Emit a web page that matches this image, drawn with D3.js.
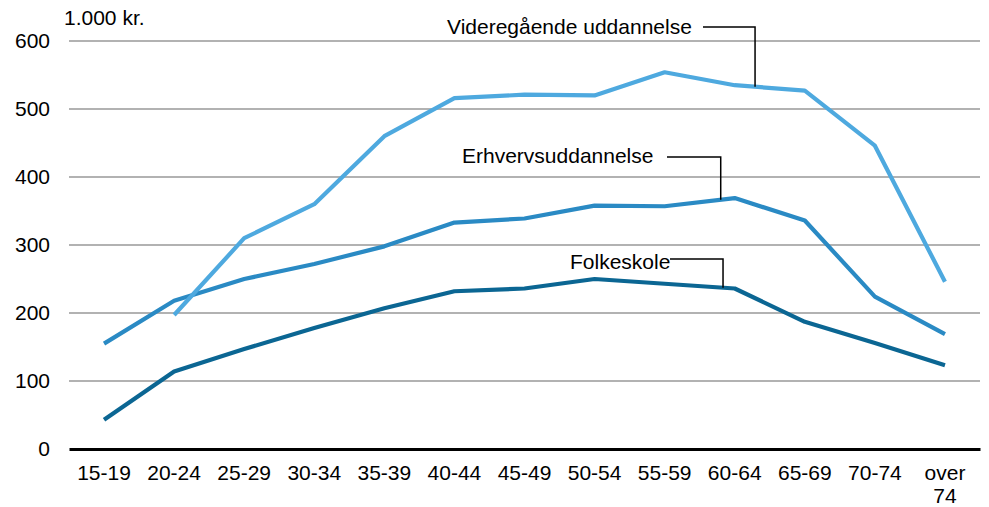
<!DOCTYPE html>
<html>
<head>
<meta charset="utf-8">
<script src="https://cdn.jsdelivr.net/npm/d3@7"></script>
<style>
  body { margin: 0; background: #fff; }
  text { font-family: "Liberation Sans", Arial, sans-serif; }
</style>
</head>
<body>
<div id="chart"></div>
<script>
const ageGroups = ["15-19", "20-24", "25-29", "30-34", "35-39", "40-44", "45-49",
                   "50-54", "55-59", "60-64", "65-69", "70-74", "over 74"];
const folkeskole = [43, 114, 147, 178, 207, 232, 236, 250, 243, 236, 187, 156, 123];
const erhverv = [155, 218, 250, 272, 298, 333, 339, 358, 357, 369, 336, 224, 169];
const videregaaende = [null, 197, 310, 360, 460, 516, 521, 520, 554, 535, 527, 446, 246];
const yTicks = [0, 100, 200, 300, 400, 500, 600];

const margin = { top: 41, right: 9, bottom: 58, left: 69 },
      width = 989 - margin.left - margin.right,
      height = 507 - margin.top - margin.bottom;

const svg = d3.select("#chart")
    .append("svg")
    .attr("width", 989)
    .attr("height", 507)
    .append("g")
    .attr("transform", `translate(${margin.left},${margin.top})`);

const x = d3.scaleBand().domain(ageGroups).range([0, width]).padding(0);
const y = d3.scaleLinear().domain([0, 600]).range([height, 0]);
const cx = d => x(d) + x.bandwidth() / 2;

// gridlines
svg.selectAll(".grid")
    .data(yTicks.filter(t => t > 0))
    .enter()
    .append("line")
    .attr("x1", 0).attr("x2", width)
    .attr("y1", d => y(d)).attr("y2", d => y(d))
    .attr("stroke", "#999").attr("stroke-width", 1.5);

// y axis labels
const yAxis = svg.append("g")
    .call(d3.axisLeft(y).tickValues(yTicks).tickSize(0).tickPadding(19));
yAxis.select(".domain").remove();
yAxis.selectAll("text").style("font-size", "21px").attr("fill", "#000")
    .attr("font-family", "Liberation Sans, Arial, sans-serif");

svg.append("text")
    .attr("x", -5).attr("y", -16)
    .style("font-size", "21px")
    .text("1.000 kr.");

// x axis
const xAxis = svg.append("g")
    .attr("transform", `translate(0,${height})`)
    .call(d3.axisBottom(x).tickSize(0).tickPadding(16));
xAxis.select(".domain").attr("stroke", "#000").attr("stroke-width", 3);
xAxis.selectAll("text").style("font-size", "21px").attr("fill", "#000")
    .attr("font-family", "Liberation Sans, Arial, sans-serif")
    .each(function(d) {
        const parts = d.split(" ");
        if (parts.length > 1) {
            const t = d3.select(this).text(null);
            parts.forEach((p, i) => {
                t.append("tspan").attr("x", 0).attr("dy", i === 0 ? "0.71em" : "1.1em").text(p);
            });
        }
    });

const series = [
    { name: "Folkeskole", values: folkeskole, color: "#0b6693" },
    { name: "Erhvervsuddannelse", values: erhverv, color: "#2a8ac4" },
    { name: "Videregående uddannelse", values: videregaaende, color: "#4ea9df" }
];

const line = d3.line()
    .defined(d => d.v !== null)
    .x(d => cx(d.k))
    .y(d => y(d.v));

svg.selectAll(".series")
    .data(series)
    .enter()
    .append("path")
    .attr("fill", "none")
    .attr("stroke", d => d.color)
    .attr("stroke-width", 4.2)
    .attr("stroke-linejoin", "round")
    .attr("d", d => line(ageGroups.map((k, i) => ({ k: k, v: d.values[i] }))));

// labels with leader lines: anchor is between two categories at fraction t
const labels = [
    { s: 2, i: 9, t: 0.29, tx: 378, ty: -7, ly: -14, lx0: 634 },
    { s: 1, i: 8, t: 0.8, tx: 393, ty: 122, ly: 116, lx0: 598 },
    { s: 0, i: 8, t: 0.833, tx: 501, ty: 228, ly: 218, lx0: 601 }
];

labels.forEach(l => {
    const sr = series[l.s];
    const ax = cx(ageGroups[l.i]) + l.t * x.step();
    const av = sr.values[l.i] + l.t * (sr.values[l.i + 1] - sr.values[l.i]);
    svg.append("path")
        .attr("fill", "none")
        .attr("stroke", "#000")
        .attr("stroke-width", 1.5)
        .attr("d", `M${l.lx0},${l.ly}H${ax}V${y(av)}`);
    svg.append("text")
        .attr("x", l.tx).attr("y", l.ty)
        .style("font-size", "21px")
        .text(sr.name);
});
</script>
</body>
</html>
